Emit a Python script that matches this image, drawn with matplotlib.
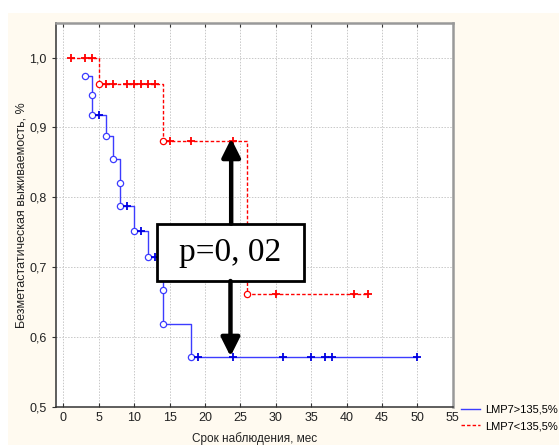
import numpy as np
import matplotlib.pyplot as plt
from matplotlib.patches import Rectangle

plt.rcParams['font.family'] = ['Liberation Sans', 'DejaVu Sans']

# blue group: LMP7>135,5%
blue_event_t = [3, 4, 4, 6, 7, 8, 8, 10, 12, 14, 14, 18]
blue_event_s = [0.973, 0.946, 0.918, 0.887, 0.854, 0.821, 0.787, 0.752, 0.715, 0.667, 0.619, 0.571]
blue_cens_t = [5, 9, 11, 13, 19, 24, 31, 35, 37, 38, 50]

# red group: LMP7<135,5%
red_event_t = [5, 14, 26]
red_event_s = [0.962, 0.881, 0.661]
red_cens_t = [1, 3, 4, 6, 7, 9, 10, 11, 12, 13, 15, 18, 24, 30, 41, 43]

xticks = [0, 5, 10, 15, 20, 25, 30, 35, 40, 45, 50, 55]
yticks = [0.5, 0.6, 0.7, 0.8, 0.9, 1.0]
ytick_labels = ['0,5', '0,6', '0,7', '0,8', '0,9', '1,0']


def surv_at(t, ev_t, ev_s, start=1.0):
    i = np.searchsorted(ev_t, t, side='right')
    return start if i == 0 else ev_s[i - 1]


fig = plt.figure(figsize=(5.59, 4.45), dpi=100, facecolor='white')
fig.patches.append(Rectangle((8 / 559, 0), 1, 432 / 445, transform=fig.transFigure,
                             facecolor='#fffaf0', edgecolor='none', zorder=-10))
ax = fig.add_axes([0.0996, 0.0861, 0.7102, 0.8615])
ax.set_facecolor('white')

blue_line = '#3c3cff'
blue_dark = '#0000e0'
red = '#ff0000'

# blue step curve
bx = blue_event_t + [blue_cens_t[-1]]
by = blue_event_s + [blue_event_s[-1]]
bl, = ax.plot(bx, by, drawstyle='steps-post', color=blue_line, lw=1.0, zorder=3)
ax.plot(blue_event_t, blue_event_s, 'o', mfc='white', mec=blue_line, ms=4.5, mew=0.9, zorder=4)
ax.plot(blue_cens_t, [surv_at(t, blue_event_t, blue_event_s) for t in blue_cens_t], '+',
        color=blue_dark, ms=6, mew=1.3, zorder=4)

# red step curve
rx = [red_cens_t[0]] + red_event_t + [red_cens_t[-1]]
ry = [1.0] + red_event_s + [red_event_s[-1]]
rl, = ax.plot(rx, ry, drawstyle='steps-post', color=red, lw=1.0, ls=(0, (2.5, 1.5)), zorder=3)
ax.plot(red_event_t, red_event_s, 'o', mfc='white', mec=red, ms=4.5, mew=0.9, zorder=4)
ax.plot(red_cens_t, [surv_at(t, red_event_t, red_event_s) for t in red_cens_t], '+',
        color=red, ms=6, mew=1.3, zorder=4)

ax.set_xlim(-1.1, 55)
ax.set_ylim(0.5, 1.049)
ax.set_xticks(xticks)
ax.set_yticks(yticks)
ax.set_yticklabels(ytick_labels)
ax.grid(True, color='#c8c8c8', ls=(0, (1.5, 1.5)), lw=0.7)
ax.tick_params(axis='both', labelsize=9, labelcolor='#222222', colors='#333333',
               direction='in', length=3, top=True, right=True)
ax.tick_params(axis='y', direction='out', right=False)
for side in ['top', 'right']:
    ax.spines[side].set_color('#999999')
    ax.spines[side].set_linewidth(1.8)
for side in ['left', 'bottom']:
    ax.spines[side].set_color('#333333')
    ax.spines[side].set_linewidth(1.1)

# p-value box and arrows
ax.add_patch(Rectangle((13.15, 0.680), 20.85, 0.082, facecolor='white',
                       edgecolor='black', lw=2, zorder=6))
ax.text(23.6, 0.7205, 'p=0, 02', family='Liberation Serif', fontsize=24,
        ha='center', va='center', zorder=7)
arrow = dict(arrowstyle='-|>', lw=3.2, color='black', mutation_scale=28,
             shrinkA=0, shrinkB=0)
ax.annotate('', xy=(23.7, 0.884), xytext=(23.7, 0.762), arrowprops=arrow, zorder=8)
ax.annotate('', xy=(23.6, 0.572), xytext=(23.6, 0.680), arrowprops=arrow, zorder=8)

ax.set_xlabel('Срок наблюдения, мес', fontsize=8.5, color='#222222', labelpad=6)
ax.set_ylabel('Безметастатическая выживаемость, %', fontsize=9, color='#222222', labelpad=1)

fig.legend(handles=[bl, rl], labels=['LMP7>135,5%', 'LMP7<135,5%'],
           loc='upper left', bbox_to_anchor=(461 / 559, 1 - 405 / 445),
           frameon=False, fontsize=8, handlelength=1.7, handletextpad=0.5,
           labelspacing=0.55, borderpad=0, borderaxespad=0)

fig.savefig('out.png', dpi=100, facecolor=fig.get_facecolor())
